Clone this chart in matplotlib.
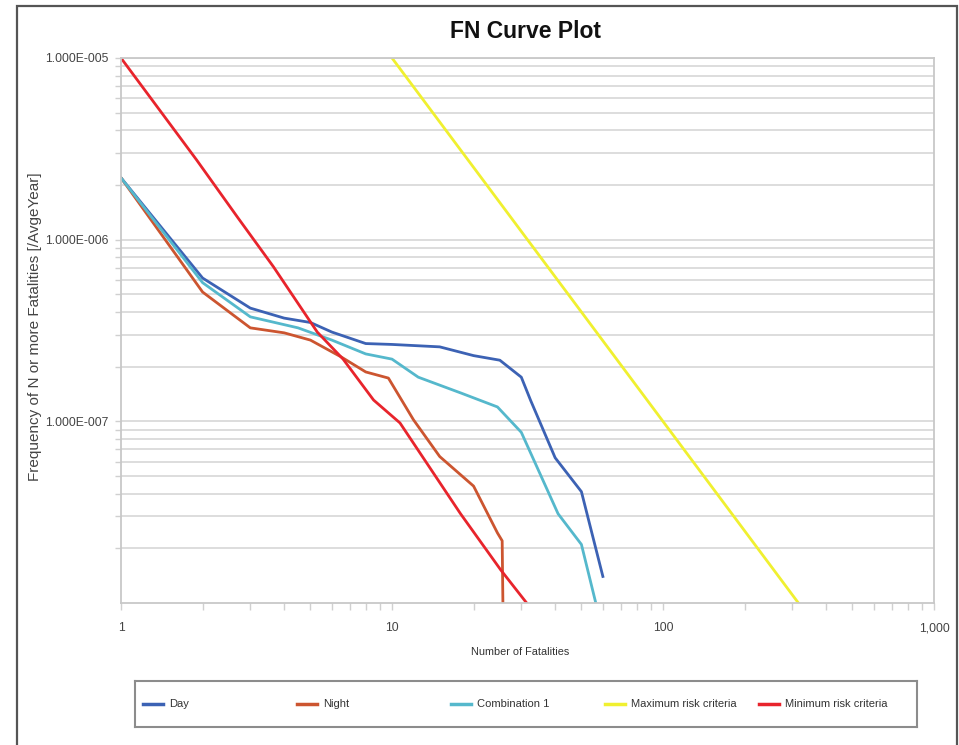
import matplotlib
matplotlib.use("Agg")
import matplotlib.pyplot as plt
from matplotlib import font_manager
from matplotlib.patches import Rectangle
from matplotlib.ticker import FixedLocator, NullFormatter

# --- data ------------------------------------------------------------------
day_n = [1, 2, 3, 4, 5, 6, 8, 10, 15, 20, 25, 30, 32.5, 40, 50, 60]
day_f = [2.19e-6, 6.15e-7, 4.2e-7, 3.7e-7, 3.5e-7, 3.1e-7, 2.68e-7, 2.65e-7,
         2.57e-7, 2.3e-7, 2.17e-7, 1.75e-7, 1.3e-7, 6.3e-8, 4.1e-8, 1.4e-8]

night_n = [1, 2, 3, 4, 5, 6.5, 8, 9.7, 12, 15, 20, 24.5, 25.5, 25.8]
night_f = [2.19e-6, 5.15e-7, 3.27e-7, 3.07e-7, 2.8e-7, 2.26e-7, 1.87e-7,
           1.73e-7, 1.02e-7, 6.4e-8, 4.4e-8, 2.43e-8, 2.2e-8, 5e-9]

comb_n = [1, 2, 3, 4.5, 6, 8, 10, 12.5, 18, 24.5, 30, 41, 50, 56.5]
comb_f = [2.19e-6, 5.8e-7, 3.76e-7, 3.27e-7, 2.8e-7, 2.35e-7, 2.2e-7, 1.75e-7,
          1.43e-7, 1.2e-7, 8.7e-8, 3.1e-8, 2.1e-8, 1.0e-8]

max_n = [10, 316]
max_f = [1e-5, 1e-8]

min_n = [1, 1.9, 2.7, 3.65, 5.3, 6.6, 8.55, 10.7, 17.9, 25.2, 31.4]
min_f = [1e-5, 2.75e-6, 1.32e-6, 7.1e-7, 3.1e-7, 2.2e-7, 1.31e-7, 9.8e-8,
         3.1e-8, 1.52e-8, 1e-8]

series_labels = ["Day", "Night", "Combination 1", "Maximum risk criteria",
                 "Minimum risk criteria"]
series_colors = ["#3c62b4", "#cc5530", "#55b8cc", "#f0f030", "#e8242c"]

y_ticks = [1e-7, 1e-6, 1e-5]
y_ticklabels = ["1.000E-007", "1.000E-006", "1.000E-005"]
x_ticks = [1, 10, 100, 1000]
x_ticklabels = ["1", "10", "100", "1,000"]

# --- fonts -------------------------------------------------------------------
installed = {f.name for f in font_manager.fontManager.ttflist}
print(sorted(n for n in installed if "Narrow" in n or "Condensed" in n))
FONT = "Liberation Sans"

W, H = 959, 745
fig = plt.figure(figsize=(W / 100, H / 100), dpi=100)
fig.patch.set_facecolor("white")

# outer frame
fig.patches.append(Rectangle((17 / W, -0.02), (957 - 17) / W, (745 - 6) / H + 0.02,
                             transform=fig.transFigure, fill=False,
                             edgecolor="#555555", linewidth=1.6))

ax = fig.add_axes([121 / W, 1 - 603 / H, (934 - 121) / W, (603 - 58) / H])
ax.set_xscale("log")
ax.set_yscale("log")
ax.set_xlim(1, 1000)
ax.set_ylim(1e-8, 1e-5)

lw = 2.0
all_data = [(day_n, day_f), (night_n, night_f), (comb_n, comb_f),
            (max_n, max_f), (min_n, min_f)]
handles = []
for (n, f), lab, col in zip(all_data, series_labels, series_colors):
    h, = ax.plot(n, f, color=col, lw=lw, label=lab, solid_joinstyle="round")
    handles.append(h)

# grid: horizontal only, major + minor
ax.yaxis.set_major_locator(FixedLocator(y_ticks))
ax.yaxis.set_minor_locator(FixedLocator([m * 10.0 ** e for e in (-8, -7, -6)
                                         for m in range(2, 10)]))
ax.yaxis.set_minor_formatter(NullFormatter())
ax.set_yticklabels(y_ticklabels)
ax.xaxis.set_major_locator(FixedLocator(x_ticks))
ax.xaxis.set_minor_locator(FixedLocator([m * 10.0 ** e for e in (0, 1, 2)
                                         for m in range(2, 10)]))
ax.xaxis.set_minor_formatter(NullFormatter())
ax.set_xticklabels(x_ticklabels)

ax.grid(True, which="both", axis="y", color="#dadada", lw=1.3)
ax.grid(False, axis="x")
ax.set_axisbelow(True)

for s in ax.spines.values():
    s.set_color("#c8c8c8")
    s.set_linewidth(1.3)

ax.tick_params(axis="y", which="both", length=4, color="#d0d0d0", width=1,
               pad=5, labelsize=8.7, labelcolor="#444444")
ax.tick_params(axis="x", which="both", length=5, color="#d0d0d0", width=1,
               pad=9, labelsize=8.7, labelcolor="#444444")
for lab in ax.get_xticklabels() + ax.get_yticklabels():
    lab.set_fontfamily(FONT)

# titles
fig.text(526 / W, 1 - 32 / H, "FN Curve Plot", ha="center", va="center",
         fontsize=16.5, fontweight="bold", family=FONT, color="#111111")
fig.text(35 / W, 1 - 327 / H, "Frequency of N or more Fatalities [/AvgeYear]",
         rotation=90, ha="center", va="center", fontsize=11,
         family=FONT, color="#444444")
fig.text(520 / W, 1 - 652 / H, "Number of Fatalities", ha="center", va="center",
         fontsize=7.8, family=FONT, color="#333333")

# legend, drawn as an evenly spaced box like the original
lax = fig.add_axes([135 / W, 1 - 727 / H, (917 - 135) / W, (727 - 681) / H])
lax.set_xlim(0, 782)
lax.set_ylim(0, 1)
lax.set_xticks([])
lax.set_yticks([])
for s in lax.spines.values():
    s.set_color("#8c8c8c")
    s.set_linewidth(1.5)
for i, h in enumerate(handles):
    x0 = 8 + i * 154
    lax.plot([x0, x0 + 20], [0.5, 0.5], color=h.get_color(), lw=2.5)
    lax.text(x0 + 26, 0.5, h.get_label(), ha="left", va="center",
             fontsize=8, family=FONT, color="#333333")

fig.savefig("out.png", dpi=100)
